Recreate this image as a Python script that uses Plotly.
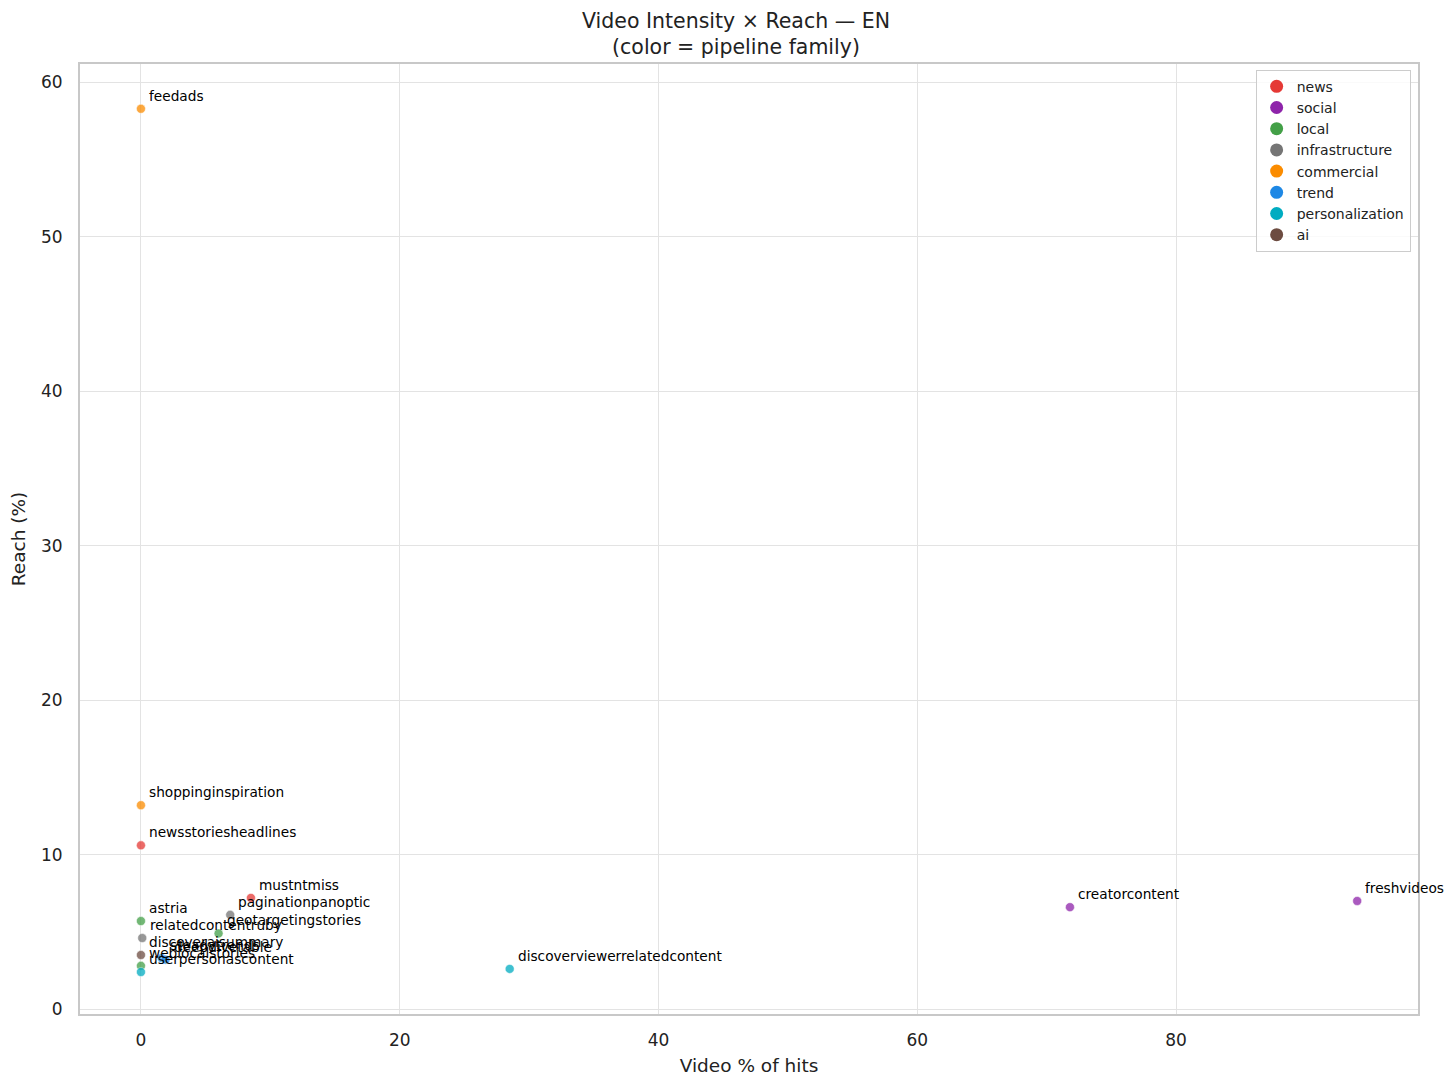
import plotly.graph_objects as go

# pipeline families and colours
families = ["news", "social", "local", "infrastructure", "commercial", "trend", "personalization", "ai"]
family_colors = ["#e53935", "#8e24aa", "#43a047", "#757575", "#fb8c00", "#1e88e5", "#00acc1", "#6d4c41"]

# one row per pipeline
names = ["feedads", "shoppinginspiration", "newsstoriesheadlines", "mustntmiss", "paginationpanoptic",
         "geotargetingstories", "astria", "relatedcontentruby", "discoveraisummary", "steadytrends",
         "deepdivetable", "weblocalstories", "userpersonascontent", "discoverviewerrelatedcontent",
         "creatorcontent", "freshvideos"]
fam = ["commercial", "commercial", "news", "news", "infrastructure",
       "local", "local", "infrastructure", "ai", "trend",
       "trend", "local", "personalization", "personalization",
       "social", "social"]
video_pct = [0.0, 0.0, 0.0, 8.5, 6.9, 6.0, 0.0, 0.1, 0.0, 1.6, 1.9, 0.0, 0.0, 28.5, 71.8, 94.0]
reach = [58.3, 13.2, 10.6, 7.2, 6.1, 4.9, 5.7, 4.6, 3.5, 3.3, 3.2, 2.8, 2.4, 2.6, 6.6, 7.0]

fig = go.Figure()
for f, c in zip(families, family_colors):
    xs = [x for x, g in zip(video_pct, fam) if g == f]
    ys = [y for y, g in zip(reach, fam) if g == f]
    fig.add_trace(go.Scatter(
        x=xs, y=ys, mode="markers", name=f, showlegend=False, legendgroup=f,
        marker=dict(color=c, size=9, opacity=0.75, line=dict(width=0.5, color="white")),
    ))
    # legend-only entry with a bigger, opaque marker
    fig.add_trace(go.Scatter(
        x=[None], y=[None], mode="markers", name=f, legendgroup=f,
        marker=dict(color=c, size=13),
    ))

for n, x, y in zip(names, video_pct, reach):
    fig.add_annotation(x=x, y=y, text=n, showarrow=False, xanchor="left", yanchor="bottom",
                       xshift=6, yshift=3, font=dict(size=13.7, color="black"))

axis_style = dict(gridcolor="#e3e3e3", zeroline=False, showline=True, linecolor="#c8c8c8",
                  linewidth=2, mirror=True, ticks="outside", automargin=False,
                  tickcolor="rgba(0,0,0,0)", tickfont=dict(size=17))

fig.update_layout(
    width=1456, height=1087,
    font=dict(family="DejaVu Sans", size=16, color="#222"),
    title=dict(text="Video Intensity × Reach — EN<br>(color = pipeline family)",
               x=0.5, xanchor="center", y=0.982, yanchor="top", font=dict(size=20.5)),
    plot_bgcolor="white", paper_bgcolor="white",
    margin=dict(l=72, r=46, t=56, b=81),
    legend=dict(x=0.9945, y=0.994, xanchor="right", yanchor="top", bordercolor="#cccccc",
                borderwidth=1, bgcolor="rgba(255,255,255,0.8)", font=dict(size=14),
                tracegroupgap=0),
    xaxis=dict(title=dict(text="Video % of hits", font=dict(size=18.5), standoff=10),
               range=[-4.71, 98.7], tickvals=[0, 20, 40, 60, 80], ticklen=10, **axis_style),
    yaxis=dict(title=dict(text="Reach (%)", font=dict(size=18.5), standoff=10),
               range=[-0.32, 61.2], tickvals=[0, 10, 20, 30, 40, 50, 60], ticklen=12, **axis_style),
)

fig.write_html("out.html")
